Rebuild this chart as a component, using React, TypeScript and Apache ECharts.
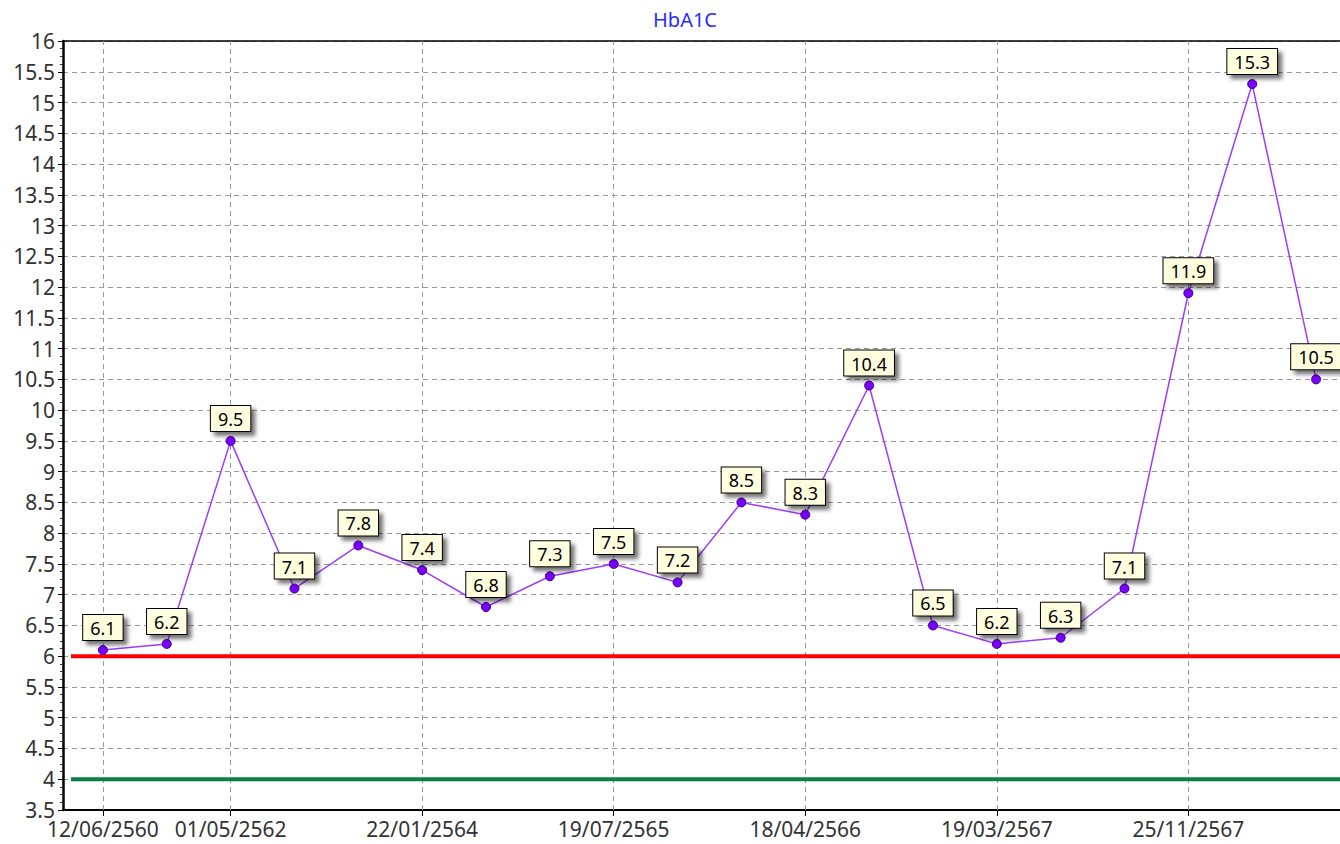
import React, { useEffect, useRef } from "react";
import * as echarts from "echarts";

const values = [6.1, 6.2, 9.5, 7.1, 7.8, 7.4, 6.8, 7.3, 7.5, 7.2, 8.5, 8.3, 10.4, 6.5, 6.2, 6.3, 7.1, 11.9, 15.3, 10.5];
const tickIndices = [0, 2, 5, 8, 11, 14, 17];
const tickLabels = ["12/06/2560", "01/05/2562", "22/01/2564", "19/07/2565", "18/04/2566", "19/03/2567", "25/11/2567"];
const upperLimit = 6;
const lowerLimit = 4;
const xMin = -0.625;
const xMax = 19.375;
const refStart = -0.5;

export default function App() {
  const ref = useRef<HTMLDivElement>(null);
  useEffect(() => {
    if (!ref.current) return;
    const chart = echarts.init(ref.current, undefined, { renderer: "svg" });
    const font = "Noto Sans";
    const labelMap: Record<number, string> = {};
    tickIndices.forEach((t, i) => (labelMap[t] = tickLabels[i]));
    chart.setOption({
      animation: false,
      backgroundColor: "#ffffff",
      title: {
        text: "HbA1C",
        left: 680,
        top: 4,
        textAlign: "center",
        textStyle: { color: "#2b2bff", fontFamily: font, fontSize: 20, fontWeight: "normal" },
      },
      grid: { left: 63, right: 0, top: 41, bottom: 34 },
      xAxis: [
        {
          type: "value",
          min: xMin,
          max: xMax,
          position: "bottom",
          axisLine: { show: true, onZero: false, lineStyle: { color: "#000", width: 2 } },
          axisTick: { show: true, customValues: tickIndices, length: 6, lineStyle: { color: "#000" } },
          axisLabel: {
            customValues: tickIndices,
            formatter: (v: number) => labelMap[Math.round(v)] ?? "",
            color: "#333",
            fontFamily: font,
            fontSize: 21,
            margin: 8,
          },
          splitLine: { show: false },
        },
        {
          type: "value",
          min: xMin,
          max: xMax,
          position: "top",
          axisLine: { show: true, onZero: false, lineStyle: { color: "#000", width: 1.5 } },
          axisTick: { show: false },
          axisLabel: { show: false },
          splitLine: { show: false },
        },
      ],
      yAxis: {
        type: "value",
        min: 3.5,
        max: 16,
        interval: 0.5,
        axisLine: { show: true, onZero: false, lineStyle: { color: "#000", width: 2.5 } },
        axisTick: { show: true, length: 5, lineStyle: { color: "#000" } },
        minorTick: { show: true, splitNumber: 4, length: 3, lineStyle: { color: "#333" } },
        axisLabel: { color: "#333", fontFamily: font, fontSize: 21, margin: 8 },
        splitLine: { show: true, lineStyle: { color: "#999", type: [5, 4], width: 1 } },
      },
      series: [
        {
          type: "line",
          data: [[refStart, upperLimit], [xMax, upperLimit]],
          symbol: "none",
          silent: true,
          lineStyle: { color: "#ff0000", width: 4 },
          z: 3,
        },
        {
          type: "line",
          data: [[refStart, lowerLimit], [xMax, lowerLimit]],
          symbol: "none",
          silent: true,
          lineStyle: { color: "#0a7f45", width: 4 },
          z: 3,
          markLine: {
            silent: true,
            symbol: "none",
            label: { show: false },
            lineStyle: { color: "#999", type: [5, 4], width: 1 },
            data: tickIndices.map((t) => ({ xAxis: t })),
            z: 1,
          },
        },
        {
          type: "line",
          data: values.map((v, i) => [i, v]),
          symbol: "circle",
          symbolSize: 9,
          itemStyle: { color: "#7a00ff", borderColor: "#3a0080", borderWidth: 1 },
          lineStyle: { color: "#9b3cff", width: 1.5 },
          z: 5,
          label: {
            show: true,
            position: "top",
            distance: 5,
            formatter: (p: any) => String(p.value[1]),
            color: "#000",
            fontFamily: font,
            fontSize: 18,
            backgroundColor: "#ffffe0",
            borderColor: "#000",
            borderWidth: 1,
            padding: [4, 7, 3, 7],
            shadowColor: "rgba(0,0,0,0.55)",
            shadowBlur: 4,
            shadowOffsetX: 4,
            shadowOffsetY: 4,
          },
        },
      ],
    });
    return () => chart.dispose();
  }, []);
  return <div ref={ref} style={{ position: "fixed", left: 0, top: 0, width: 1340, height: 844 }} />;
}
